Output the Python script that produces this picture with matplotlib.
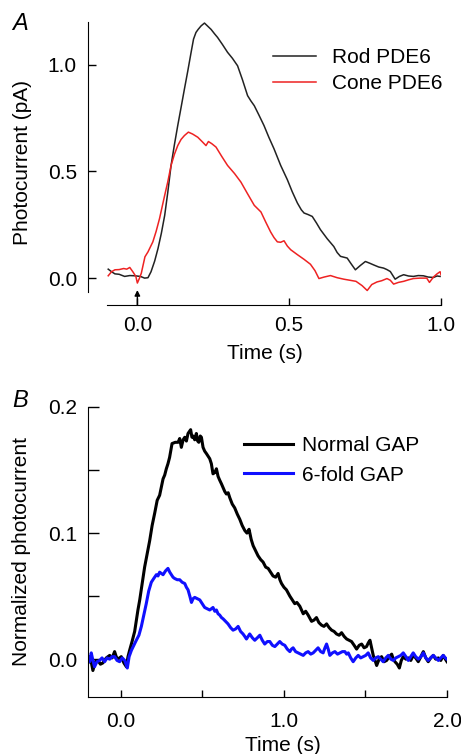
import matplotlib
matplotlib.use("Agg")
import matplotlib.pyplot as plt
from matplotlib.ticker import MultipleLocator

plt.rcParams['font.family'] = ['Liberation Sans', 'DejaVu Sans']

# ---- panel A: rod vs cone PDE6 (pA) ----
rod_t = [-0.096, -0.085, -0.074, -0.060, -0.042, -0.025, -0.009, 0.010, 0.024, 0.035,
         0.045, 0.057, 0.068, 0.079, 0.090, 0.100, 0.111, 0.122, 0.133, 0.144,
         0.155, 0.166, 0.177, 0.185, 0.193, 0.200, 0.210, 0.221, 0.232, 0.243,
         0.254, 0.264, 0.280, 0.297, 0.313, 0.330, 0.346, 0.363, 0.374, 0.385,
         0.400, 0.417, 0.433, 0.450, 0.472, 0.494, 0.510, 0.527, 0.540, 0.549,
         0.562, 0.576, 0.590, 0.603, 0.625, 0.647, 0.658, 0.669, 0.680, 0.691,
         0.705, 0.718, 0.735, 0.751, 0.765, 0.778, 0.795, 0.811, 0.822, 0.833,
         0.849, 0.863, 0.877, 0.893, 0.909, 0.925, 0.942, 0.958, 0.975, 0.987,
         0.997]
rod_v = [0.042, 0.030, 0.020, 0.018, 0.008, 0.012, 0.011, 0.008, 0.000, 0.002,
         0.030, 0.080, 0.139, 0.210, 0.294, 0.400, 0.528, 0.625, 0.715, 0.800,
         0.886, 0.970, 1.058, 1.120, 1.151, 1.165, 1.182, 1.195, 1.180, 1.165,
         1.145, 1.128, 1.095, 1.058, 1.030, 0.995, 0.930, 0.855, 0.830, 0.808,
         0.765, 0.715, 0.660, 0.606, 0.528, 0.461, 0.405, 0.352, 0.320, 0.305,
         0.298, 0.289, 0.258, 0.227, 0.185, 0.148, 0.120, 0.102, 0.098, 0.094,
         0.065, 0.039, 0.060, 0.078, 0.070, 0.062, 0.052, 0.047, 0.040, 0.031,
         -0.005, 0.008, 0.016, 0.010, 0.008, 0.012, 0.011, 0.005, 0.003, 0.010,
         0.008]

cone_t = [-0.096, -0.085, -0.074, -0.060, -0.045, -0.035, -0.025, -0.015, -0.005, 0.000,
          0.007, 0.013, 0.025, 0.035, 0.051, 0.062, 0.073, 0.090, 0.100, 0.111,
          0.122, 0.133, 0.144, 0.155, 0.168, 0.182, 0.199, 0.213, 0.226, 0.234,
          0.245, 0.259, 0.278, 0.297, 0.320, 0.341, 0.363, 0.385, 0.407, 0.423,
          0.439, 0.450, 0.461, 0.472, 0.483, 0.494, 0.505, 0.527, 0.549, 0.570,
          0.585, 0.598, 0.615, 0.636, 0.658, 0.680, 0.700, 0.720, 0.740, 0.757,
          0.772, 0.789, 0.805, 0.822, 0.833, 0.844, 0.860, 0.877, 0.893, 0.909,
          0.930, 0.953, 0.962, 0.975, 0.987, 0.997, 1.000]
cone_v = [0.011, 0.030, 0.039, 0.040, 0.045, 0.042, 0.050, 0.030, 0.008, -0.023,
          0.000, 0.023, 0.100, 0.123, 0.170, 0.220, 0.279, 0.388, 0.450, 0.528,
          0.580, 0.621, 0.650, 0.668, 0.684, 0.675, 0.660, 0.640, 0.621, 0.640,
          0.630, 0.614, 0.570, 0.528, 0.490, 0.450, 0.395, 0.341, 0.310, 0.262,
          0.216, 0.190, 0.170, 0.168, 0.175, 0.150, 0.133, 0.110, 0.088, 0.065,
          0.035, -0.002, 0.005, 0.012, 0.002, -0.005, -0.010, -0.015, -0.035, -0.058,
          -0.030, -0.018, -0.012, -0.002, -0.010, -0.028, -0.020, -0.015, -0.008, -0.002,
          0.000, 0.000, -0.020, 0.005, 0.020, 0.030, 0.016]

# ---- panel B: normal vs 6-fold GAP (normalized) ----
normal_t = [-0.200, -0.185, -0.170, -0.155, -0.139, -0.124, -0.109, -0.088, -0.067, -0.052,
            -0.037, -0.027, -0.017, 0.004, 0.020, 0.035, 0.045, 0.055, 0.070, 0.086,
            0.106, 0.117, 0.132, 0.147, 0.162, 0.178, 0.193, 0.209, 0.224, 0.239,
            0.250, 0.260, 0.270, 0.280, 0.290, 0.300, 0.315, 0.335, 0.352, 0.362,
            0.372, 0.383, 0.393, 0.403, 0.413, 0.429, 0.437, 0.444, 0.454, 0.464,
            0.472, 0.479, 0.488, 0.495, 0.505, 0.515, 0.526, 0.536, 0.546, 0.556,
            0.566, 0.577, 0.587, 0.597, 0.607, 0.618, 0.628, 0.638, 0.648, 0.659,
            0.669, 0.684, 0.699, 0.715, 0.730, 0.745, 0.761, 0.774, 0.787, 0.800,
            0.812, 0.827, 0.842, 0.858, 0.873, 0.889, 0.904, 0.919, 0.934, 0.950,
            0.965, 0.976, 0.986, 1.001, 1.016, 1.037, 1.057, 1.067, 1.080, 1.098,
            1.119, 1.134, 1.149, 1.170, 1.185, 1.200, 1.215, 1.231, 1.246, 1.262,
            1.278, 1.293, 1.308, 1.323, 1.339, 1.354, 1.370, 1.385, 1.400, 1.415,
            1.431, 1.446, 1.462, 1.477, 1.492, 1.507, 1.518, 1.528, 1.538, 1.548,
            1.559, 1.569, 1.584, 1.599, 1.615, 1.630, 1.646, 1.661, 1.671, 1.681,
            1.695, 1.708, 1.720, 1.732, 1.748, 1.763, 1.778, 1.793, 1.808, 1.824,
            1.840, 1.855, 1.870, 1.885, 1.900, 1.916, 1.931, 1.947, 1.962, 1.977,
            1.990, 2.000]
normal_v = [-0.003, 0.001, -0.009, -0.002, -0.001, -0.004, -0.003, 0.001, 0.003, 0.001,
            0.006, 0.002, 0.000, 0.002, -0.003, -0.006, 0.002, 0.007, 0.014, 0.022,
            0.039, 0.047, 0.060, 0.073, 0.083, 0.094, 0.106, 0.116, 0.126, 0.130,
            0.137, 0.143, 0.146, 0.151, 0.155, 0.160, 0.171, 0.172, 0.172, 0.175,
            0.168, 0.174, 0.176, 0.173, 0.179, 0.182, 0.176, 0.177, 0.174, 0.179,
            0.173, 0.172, 0.177, 0.176, 0.168, 0.165, 0.163, 0.161, 0.159, 0.155,
            0.147, 0.148, 0.151, 0.145, 0.142, 0.139, 0.136, 0.133, 0.131, 0.132,
            0.128, 0.123, 0.120, 0.115, 0.111, 0.106, 0.102, 0.100, 0.103, 0.095,
            0.090, 0.086, 0.082, 0.079, 0.077, 0.073, 0.072, 0.069, 0.066, 0.065,
            0.068, 0.063, 0.060, 0.057, 0.055, 0.050, 0.046, 0.044, 0.045, 0.042,
            0.036, 0.038, 0.035, 0.030, 0.031, 0.033, 0.029, 0.027, 0.026, 0.028,
            0.025, 0.023, 0.022, 0.020, 0.019, 0.021, 0.018, 0.016, 0.015, 0.014,
            0.011, 0.008, 0.011, 0.012, 0.009, 0.010, 0.013, 0.015, 0.009, 0.003,
            -0.001, -0.005, 0.000, 0.002, -0.002, -0.001, 0.002, 0.004, 0.000, -0.002,
            -0.004, -0.007, -0.001, 0.002, 0.000, 0.001, -0.001, 0.003, 0.001, -0.002,
            0.002, 0.006, 0.001, -0.002, 0.001, 0.003, 0.000, 0.001, -0.001, 0.003,
            0.000, -0.002]

gap6_t = [-0.200, -0.190, -0.180, -0.170, -0.160, -0.145, -0.129, -0.114, -0.098, -0.083,
          -0.067, -0.052, -0.037, -0.022, -0.006, 0.010, 0.025, 0.033, 0.041, 0.052,
          0.066, 0.081, 0.096, 0.112, 0.127, 0.142, 0.157, 0.172, 0.188, 0.203,
          0.219, 0.229, 0.239, 0.250, 0.260, 0.275, 0.290, 0.301, 0.311, 0.321,
          0.331, 0.347, 0.362, 0.377, 0.393, 0.403, 0.413, 0.424, 0.434, 0.444,
          0.454, 0.470, 0.485, 0.500, 0.515, 0.531, 0.546, 0.556, 0.566, 0.577,
          0.587, 0.597, 0.607, 0.618, 0.628, 0.643, 0.658, 0.674, 0.689, 0.705,
          0.720, 0.735, 0.750, 0.761, 0.771, 0.781, 0.791, 0.807, 0.822, 0.838,
          0.853, 0.868, 0.883, 0.899, 0.914, 0.930, 0.945, 0.960, 0.975, 0.990,
          1.006, 1.021, 1.037, 1.047, 1.057, 1.072, 1.088, 1.103, 1.119, 1.134,
          1.149, 1.165, 1.180, 1.195, 1.210, 1.226, 1.241, 1.252, 1.262, 1.272,
          1.282, 1.298, 1.313, 1.329, 1.344, 1.359, 1.374, 1.385, 1.395, 1.410,
          1.425, 1.441, 1.456, 1.471, 1.487, 1.502, 1.517, 1.532, 1.548, 1.563,
          1.579, 1.594, 1.609, 1.625, 1.640, 1.656, 1.671, 1.686, 1.701, 1.717,
          1.732, 1.748, 1.763, 1.778, 1.793, 1.808, 1.824, 1.840, 1.855, 1.870,
          1.885, 1.900, 1.916, 1.931, 1.947, 1.962, 1.977, 1.990, 2.000]
gap6_v = [0.002, -0.002, 0.005, -0.001, -0.006, -0.002, -0.001, 0.001, -0.002, 0.001,
          0.000, 0.002, 0.002, -0.001, -0.002, 0.001, -0.001, -0.004, -0.007, 0.002,
          0.007, 0.011, 0.015, 0.019, 0.026, 0.035, 0.044, 0.054, 0.061, 0.064,
          0.067, 0.066, 0.069, 0.068, 0.067, 0.070, 0.072, 0.069, 0.067, 0.065,
          0.064, 0.063, 0.063, 0.061, 0.060, 0.057, 0.055, 0.050, 0.045, 0.048,
          0.049, 0.048, 0.047, 0.044, 0.041, 0.040, 0.039, 0.040, 0.041, 0.038,
          0.039, 0.036, 0.035, 0.033, 0.032, 0.030, 0.028, 0.025, 0.023, 0.024,
          0.026, 0.022, 0.020, 0.018, 0.016, 0.018, 0.020, 0.017, 0.015, 0.017,
          0.019, 0.015, 0.012, 0.014, 0.014, 0.011, 0.010, 0.012, 0.014, 0.012,
          0.011, 0.008, 0.006, 0.008, 0.009, 0.006, 0.005, 0.004, 0.003, 0.005,
          0.006, 0.004, 0.005, 0.007, 0.009, 0.006, 0.005, 0.009, 0.012, 0.008,
          0.003, 0.005, 0.006, 0.004, 0.005, 0.006, 0.006, 0.004, 0.005, 0.001,
          -0.002, 0.001, 0.003, 0.001, 0.002, 0.003, 0.005, 0.001, -0.001, 0.001,
          0.002, 0.000, -0.002, 0.001, 0.003, 0.000, -0.001, 0.001, 0.002, 0.003,
          0.005, 0.002, -0.001, 0.002, 0.005, 0.002, 0.000, 0.002, 0.005, 0.001,
          -0.001, 0.001, 0.003, 0.001, -0.001, 0.001, 0.003, 0.001, 0.000]

fs = 15
fig = plt.figure(figsize=(4.61, 7.54), dpi=100)

# panel A
axA = fig.add_axes([107/461, 1 - 292/754, 334/461, 270/754])
axA.plot(rod_t, rod_v, color='#222222', lw=1.1, label='Rod PDE6')
axA.plot(cone_t, cone_v, color='#ee2222', lw=1.1, label='Cone PDE6')
axA.set_xlim(-0.1, 1.0)
axA.set_ylim(-0.065, 1.2)
axA.spines[['top', 'right']].set_visible(False)
axA.spines['left'].set_position(('outward', 19 * 0.72))
axA.spines['bottom'].set_position(('outward', 13 * 0.72))
axA.set_xticks([0.0, 0.5, 1.0])
axA.set_yticks([0.0, 0.5, 1.0])
axA.set_xticklabels(['0.0', '0.5', '1.0'])
axA.set_yticklabels(['0.0', '0.5', '1.0'])
axA.tick_params(axis='y', direction='in', length=6, width=1, pad=8, labelsize=fs)
axA.tick_params(axis='x', direction='in', length=5, width=1, pad=8, labelsize=fs)
axA.set_xlabel('Time (s)', fontsize=fs)
axA.set_ylabel('Photocurrent (pA)', fontsize=fs)
axA.xaxis.set_label_coords(0.473, -0.226)
axA.xaxis.label.set_va('center')
axA.yaxis.set_label_coords(-0.254, 0.478)
axA.yaxis.label.set_va('center')
# stimulus arrow at t = 0
axA.annotate('', xy=(0, -0.056), xytext=(0, -0.126), annotation_clip=False,
             arrowprops=dict(arrowstyle='-|>', color='black', lw=1,
                             mutation_scale=8, shrinkA=0, shrinkB=0))
axA.legend(loc='center left', bbox_to_anchor=(0.497, 0.820), frameon=False,
           fontsize=fs, handlelength=2.07, handletextpad=0.77, labelspacing=0.32,
           borderpad=0, borderaxespad=0)

# panel B
axB = fig.add_axes([88/461, 1 - 697/754, 359/461, 290/754])
axB.plot(normal_t, normal_v, color='black', lw=2.2, label='Normal GAP')
axB.plot(gap6_t, gap6_v, color='#1010ff', lw=2.2, label='6-fold GAP')
axB.set_xlim(-0.2, 2.0)
axB.set_ylim(-0.03, 0.2)
axB.spines[['top', 'right']].set_visible(False)
axB.set_xticks([0.0, 1.0, 2.0])
axB.set_yticks([0.0, 0.1, 0.2])
axB.set_xticklabels(['0.0', '1.0', '2.0'])
axB.set_yticklabels(['0.0', '0.1', '0.2'])
axB.xaxis.set_minor_locator(MultipleLocator(0.5))
axB.yaxis.set_minor_locator(MultipleLocator(0.05))
axB.tick_params(axis='y', which='both', direction='in', length=8, width=1, pad=8, labelsize=fs)
axB.tick_params(axis='x', which='both', direction='in', length=5, width=1, pad=11, labelsize=fs)
axB.set_xlabel('Time (s)', fontsize=fs)
axB.set_ylabel('Normalized photocurrent', fontsize=fs)
axB.xaxis.set_label_coords(0.543, -0.166)
axB.xaxis.label.set_va('center')
axB.yaxis.set_label_coords(-0.184, 0.5)
axB.yaxis.label.set_va('center')
axB.legend(loc='center left', bbox_to_anchor=(0.4345, 0.8155), frameon=False,
           fontsize=fs, handlelength=2.35, handletextpad=0.43, labelspacing=0.5,
           borderpad=0, borderaxespad=0)

fig.text(12/461, 1 - 30/754, 'A', fontsize=17, style='italic', va='baseline')
fig.text(12/461, 1 - 407/754, 'B', fontsize=17, style='italic', va='baseline')

fig.savefig('out.png', dpi=100)
